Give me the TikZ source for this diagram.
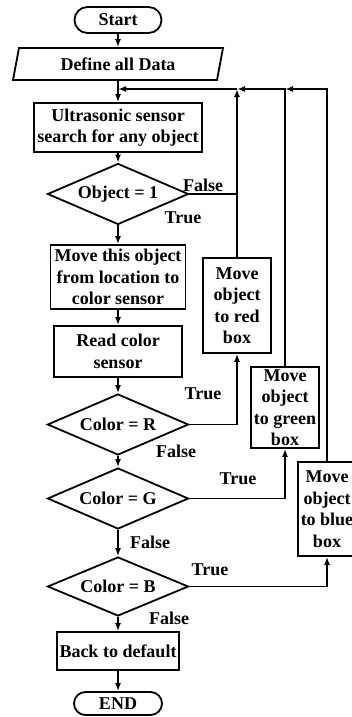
\documentclass[tikz,border=0pt]{standalone}
\usepackage{fontspec}
\setmainfont{Liberation Serif}
\usetikzlibrary{shapes.geometric,shapes.misc,arrows.meta}

\begin{document}
\begin{tikzpicture}[x=1pt,y=-1pt,
                    line width=1.8pt,
                    >={Latex[length=8pt,width=6pt]},
                    font=\fontsize{18}{21.5}\selectfont\bfseries]
    \tikzstyle{block}=[rectangle,draw,align=center,inner xsep=2pt,inner ysep=0pt]
    \tikzstyle{terminal}=[rounded rectangle,draw,inner sep=0pt]
    \tikzstyle{decision}=[diamond,draw,aspect=2.3,inner sep=0pt,minimum width=141pt]
    \tikzstyle{io}=[trapezium,draw,trapezium left angle=65,trapezium right angle=115,
                    trapezium stretches body,inner sep=0pt]
    \tikzstyle{side}=[block,minimum width=68pt]
    \tikzstyle{tag}=[inner sep=0pt]

    \useasboundingbox (0,0) rectangle (351,717);

    \node[terminal,minimum width=87pt,minimum height=26pt] (start) at (118,20) {Start};
    \node[io,minimum width=210pt,minimum height=32pt] (data) at (118,64) {Define all Data};
    \node[block,minimum width=168pt,minimum height=49pt] (sense) at (118,127.5) {Ultrasonic sensor\\search for any object};
    \node[decision,minimum height=61pt] (obj) at (118,194) {Object = 1};
    \node[block,minimum width=135pt,minimum height=64pt] (move) at (118,277) {Move this object\\from location to\\color sensor};
    \node[block,minimum width=128pt,minimum height=51pt] (read) at (118,351.5) {Read color\\sensor};
    \node[decision,minimum height=61pt] (isr) at (118,424.5) {Color = R};
    \node[decision,minimum height=61pt] (isg) at (118,498.5) {Color = G};
    \node[decision,minimum height=59pt] (isb) at (118,586.5) {Color = B};
    \node[block,minimum width=122pt,minimum height=38pt] (back) at (118,651) {Back to default};
    \node[terminal,minimum width=88pt,minimum height=23pt] (end) at (118,703.5) {END};

    \node[side,minimum height=95pt] (red) at (237,305.5) {Move\\object\\to red\\box};
    \node[side,minimum height=81pt] (green) at (285,407.5) {Move\\object\\to green\\box};
    \node[side,minimum width=58pt,minimum height=94pt] (blue) at (327,509) {Move\\object\\to blue\\box};

    \coordinate (jr) at (237,89);
    \coordinate (jg) at (285,89);

    \draw[->] (start) -- (data);
    \draw[->] (data) -- (sense);
    \draw[->] (sense) -- (obj);
    \draw[->] (obj) -- (move);
    \draw[->] (move) -- (read);
    \draw[->] (read) -- (isr);
    \draw[->] (isr) -- (isg);
    \draw[->] (isg) -- (isb);
    \draw[->] (isb) -- (back);
    \draw[->] (back) -- (end);

    \draw[->] (isr.east) -| (red.south);
    \draw[->] (isg.east) -| (green.south);
    \draw[->] (isb.east) -| (blue.south);
    \draw (obj.east) -- (obj.east -| red.north);
    \draw[->] (red.north) -- (jr);
    \draw[->] (green.north) |- (jr);
    \draw[->] (blue.north) |- (jg);
    \draw[->] (jr) -- (sense.north |- jr);

    \node[tag] (f1) at (203,185) {False};
    \node[tag] (t1) at (183,218) {True};
    \node[tag] (t2) at (203,394) {True};
    \node[tag] (f2) at (176,451) {False};
    \node[tag] (t3) at (238,479) {True};
    \node[tag] (f3) at (150,542) {False};
    \node[tag] (t4) at (210,570) {True};
    \node[tag] (f4) at (169,618) {False};
\end{tikzpicture}
\end{document}
